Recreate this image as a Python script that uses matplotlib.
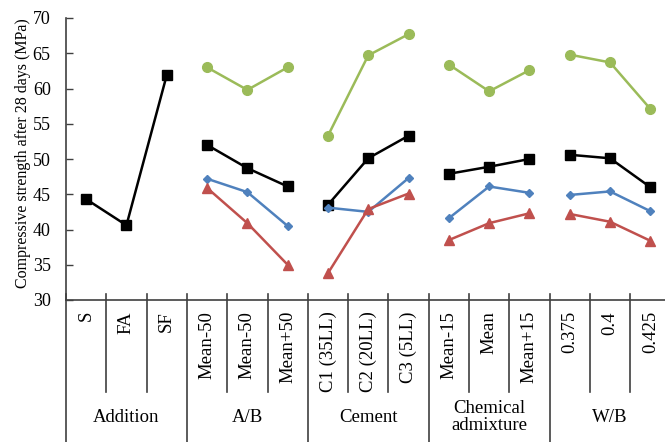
import numpy as np
import matplotlib
matplotlib.use("Agg")
import matplotlib.pyplot as plt

plt.rcParams['font.family'] = ['Liberation Serif', 'DejaVu Serif']

# category labels along x, grouped by factor
categories = ["S", "FA", "SF",
              "Mean-50", "Mean-50", "Mean+50",
              "C1 (35LL)", "C2 (20LL)", "C3 (5LL)",
              "Mean-15", "Mean", "Mean+15",
              "0.375", "0.4", "0.425"]
groups = ["Addition", "A/B", "Cement", "Chemical\nadmixture", "W/B"]
group_size = 3

nan = np.nan
black_vals = [44.3, 40.6, 61.9, 52.0, 48.7, 46.1, 43.5, 50.1, 53.3,
              47.9, 48.9, 50.0, 50.6, 50.1, 46.0]
green_vals = [nan, nan, nan, 63.0, 59.8, 63.0, 53.3, 64.7, 67.7,
              63.4, 59.6, 62.6, 64.8, 63.7, 57.1]
blue_vals = [nan, nan, nan, 47.2, 45.3, 40.5, 43.1, 42.5, 47.3,
             41.6, 46.1, 45.2, 44.9, 45.4, 42.6]
red_vals = [nan, nan, nan, 45.9, 40.9, 35.0, 33.8, 42.9, 45.1,
            38.5, 40.9, 42.3, 42.2, 41.1, 38.4]

series = [
    (green_vals, '#9BBB59', 'o', 7),
    (black_vals, 'black', 's', 7),
    (blue_vals, '#4F81BD', 'D', 4.5),
    (red_vals, '#C0504D', '^', 6.5),
]

fig = plt.figure(figsize=(6.65, 4.42), dpi=100)
ax = fig.add_axes([66 / 665, 142 / 442, 604.5 / 665, 282 / 442])

x = np.arange(len(categories))
for vals, color, marker, ms in series:
    vals = np.array(vals, dtype=float)
    for g in range(len(groups)):
        sl = slice(g * group_size, (g + 1) * group_size)
        ax.plot(x[sl], vals[sl], color=color, marker=marker, markersize=ms,
                linewidth=1.8, zorder=3)

ax.set_xlim(-0.5, len(categories) - 0.5)
ax.set_ylim(30, 70)
ax.set_yticks(np.arange(30, 71, 5))
ax.tick_params(axis='y', direction='in', length=5, pad=11, labelsize=13,
               width=1, color='#404040')
ax.set_xticks(x)
ax.set_xticklabels(categories, rotation=90, fontsize=13.5)
ax.tick_params(axis='x', length=0, pad=8)
ax.set_ylabel("Compressive strength after 28 days (MPa)", fontsize=11.5)
ax.yaxis.set_label_coords(-0.058, 0.522)

for side in ['top', 'right']:
    ax.spines[side].set_visible(False)
for side in ['left', 'bottom']:
    ax.spines[side].set_color('#404040')
    ax.spines[side].set_linewidth(1.2)

# table-like separators under the axis
trans = ax.get_xaxis_transform()
for k in range(len(categories) + 1):
    xb = k - 0.5
    if k % group_size == 0:
        ax.plot([xb, xb], [0.021, -0.51], transform=trans, color='#404040',
                linewidth=1.2, clip_on=False)
    else:
        ax.plot([xb, xb], [0.021, -0.326], transform=trans, color='#404040',
                linewidth=1.2, clip_on=False)

for g, name in enumerate(groups):
    xc = g * group_size + (group_size - 1) / 2
    ax.text(xc, -0.415, name, transform=trans, ha='center', va='center',
            fontsize=13.5, linespacing=0.95)

fig.savefig("out.png", dpi=100)
